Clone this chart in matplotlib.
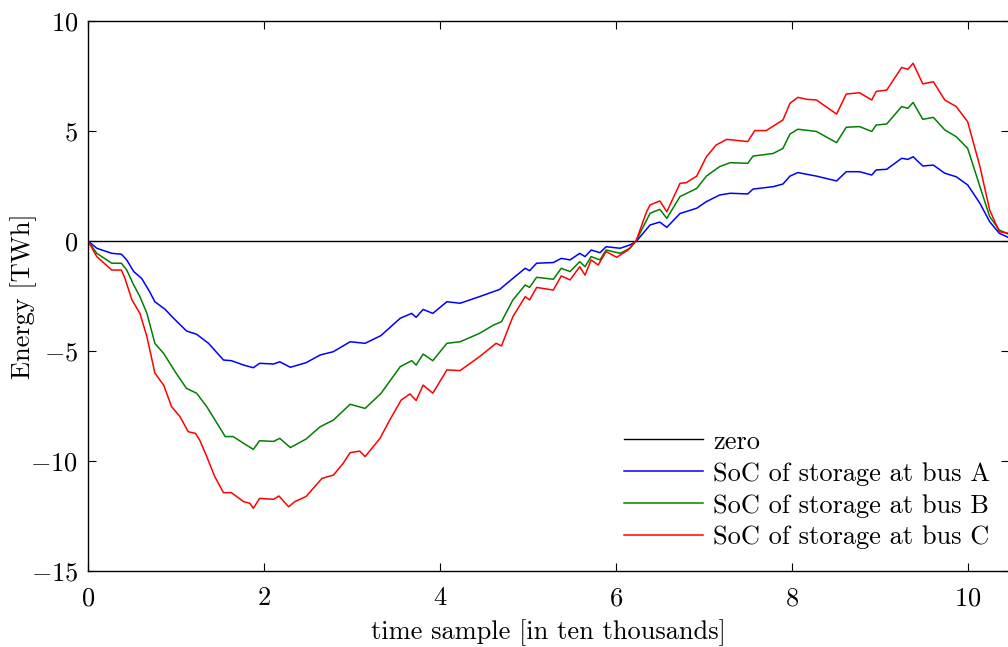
import matplotlib
matplotlib.use("Agg")
import matplotlib.pyplot as plt

plt.rcParams['font.family'] = 'serif'
plt.rcParams['font.serif'] = ['cmr10']
plt.rcParams['mathtext.fontset'] = 'cm'
plt.rcParams['axes.formatter.use_mathtext'] = True
plt.rcParams['axes.unicode_minus'] = True

# ---- data (time in ten thousands of samples, energy in TWh) ----
zero_x = [0.0, 10.5]
zero_y = [0.0, 0.0]

a_x = [0, 0.1, 0.27, 0.38, 0.44, 0.52, 0.61, 0.70, 0.76, 0.875, 0.97, 1.12, 1.235, 1.37,
       1.54, 1.63, 1.77, 1.88, 1.95, 2.11, 2.18, 2.30, 2.48, 2.64, 2.79, 2.98, 3.15, 3.33,
       3.55, 3.68, 3.73, 3.81, 3.92, 4.08, 4.23, 4.45, 4.68, 4.83, 4.97, 5.02, 5.10, 5.29,
       5.38, 5.48, 5.59, 5.65, 5.72, 5.82, 5.89, 6.05, 6.16, 6.23, 6.39, 6.5, 6.58, 6.73,
       6.92, 7.03, 7.18, 7.30, 7.50, 7.56, 7.79, 7.90, 7.98, 8.07, 8.28, 8.51, 8.62, 8.77,
       8.91, 8.96, 9.08, 9.25, 9.32, 9.38, 9.49, 9.61, 9.74, 9.87, 10.0, 10.14, 10.25,
       10.36, 10.47]
a_y = [0, -0.33, -0.56, -0.6, -0.86, -1.39, -1.70, -2.30, -2.76, -3.1, -3.5, -4.09, -4.24,
       -4.65, -5.41, -5.44, -5.64, -5.76, -5.56, -5.59, -5.49, -5.74, -5.53, -5.18, -5.03,
       -4.58, -4.65, -4.3, -3.51, -3.29, -3.47, -3.11, -3.29, -2.76, -2.83, -2.53, -2.20,
       -1.70, -1.24, -1.35, -1.01, -0.98, -0.79, -0.86, -0.56, -0.71, -0.41, -0.53, -0.26,
       -0.33, -0.18, -0.03, 0.73, 0.86, 0.62, 1.25, 1.49, 1.79, 2.09, 2.17, 2.14, 2.36,
       2.47, 2.59, 2.95, 3.11, 2.95, 2.73, 3.15, 3.15, 3.0, 3.23, 3.26, 3.76, 3.71, 3.83,
       3.41, 3.45, 3.08, 2.92, 2.55, 1.71, 0.88, 0.35, 0.15]

b_x = [0, 0.1, 0.27, 0.38, 0.44, 0.52, 0.59, 0.67, 0.76, 0.86, 1.0, 1.12, 1.235, 1.35,
       1.56, 1.65, 1.77, 1.88, 1.95, 2.11, 2.18, 2.30, 2.48, 2.64, 2.79, 2.98, 3.15, 3.33,
       3.55, 3.68, 3.73, 3.81, 3.92, 4.08, 4.23, 4.45, 4.61, 4.70, 4.83, 4.97, 5.02, 5.10,
       5.29, 5.38, 5.48, 5.59, 5.65, 5.72, 5.82, 5.89, 6.05, 6.16, 6.23, 6.39, 6.5, 6.58,
       6.73, 6.92, 7.03, 7.18, 7.30, 7.50, 7.56, 7.79, 7.90, 7.98, 8.07, 8.28, 8.51, 8.62,
       8.77, 8.91, 8.96, 9.08, 9.25, 9.32, 9.38, 9.49, 9.61, 9.74, 9.87, 10.0, 10.14,
       10.25, 10.36, 10.47]
b_y = [0, -0.56, -1.01, -1.01, -1.32, -2.0, -2.53, -3.29, -4.65, -5.11, -6.0, -6.7, -6.92,
       -7.53, -8.89, -8.89, -9.2, -9.47, -9.08, -9.11, -8.97, -9.39, -9.0, -8.44, -8.14,
       -7.42, -7.61, -6.93, -5.71, -5.44, -5.64, -5.14, -5.44, -4.65, -4.58, -4.2, -3.82,
       -3.67, -2.68, -2.0, -2.11, -1.65, -1.74, -1.24, -1.39, -0.94, -1.17, -0.71, -0.86,
       -0.41, -0.56, -0.33, 0.0, 1.26, 1.44, 1.03, 2.02, 2.39, 2.95, 3.38, 3.56, 3.53,
       3.86, 3.98, 4.21, 4.86, 5.08, 4.98, 4.47, 5.17, 5.2, 4.98, 5.27, 5.32, 6.11, 6.03,
       6.3, 5.53, 5.62, 5.05, 4.74, 4.21, 2.47, 1.11, 0.5, 0.3]

c_x = [0, 0.1, 0.27, 0.38, 0.42, 0.50, 0.59, 0.67, 0.76, 0.86, 0.95, 1.045, 1.14, 1.22,
       1.27, 1.35, 1.44, 1.54, 1.63, 1.77, 1.84, 1.88, 1.95, 2.11, 2.17, 2.28, 2.35, 2.48,
       2.66, 2.79, 2.90, 2.98, 3.09, 3.15, 3.32, 3.43, 3.56, 3.66, 3.73, 3.81, 3.92, 4.08,
       4.23, 4.45, 4.64, 4.70, 4.83, 4.97, 5.02, 5.10, 5.29, 5.38, 5.48, 5.59, 5.65, 5.72,
       5.80, 5.89, 6.01, 6.14, 6.23, 6.35, 6.39, 6.5, 6.58, 6.73, 6.80, 6.92, 7.03, 7.14,
       7.26, 7.50, 7.58, 7.71, 7.90, 7.98, 8.07, 8.17, 8.28, 8.51, 8.62, 8.77, 8.91, 8.96,
       9.08, 9.25, 9.32, 9.38, 9.49, 9.61, 9.74, 9.87, 10.0, 10.14, 10.25, 10.36, 10.47]
c_y = [0, -0.71, -1.32, -1.32, -1.70, -2.68, -3.29, -4.35, -6.0, -6.55, -7.53, -7.98,
       -8.67, -8.74, -9.05, -9.8, -10.7, -11.44, -11.44, -11.85, -11.92, -12.15, -11.7,
       -11.74, -11.59, -12.08, -11.85, -11.61, -10.79, -10.64, -10.11, -9.62, -9.55, -9.8,
       -8.97, -8.14, -7.23, -6.95, -7.25, -6.55, -6.92, -5.86, -5.89, -5.26, -4.65, -4.77,
       -3.44, -2.53, -2.68, -2.11, -2.23, -1.59, -1.77, -1.17, -1.55, -0.86, -1.09, -0.48,
       -0.74, -0.41, 0.0, 1.33, 1.64, 1.82, 1.33, 2.62, 2.65, 2.95, 3.83, 4.36, 4.62, 4.52,
       5.02, 5.02, 5.5, 6.26, 6.53, 6.44, 6.41, 5.77, 6.68, 6.74, 6.41, 6.8, 6.86, 7.89,
       7.8, 8.08, 7.14, 7.24, 6.41, 6.11, 5.42, 3.38, 1.41, 0.42, 0.35]

labels = ['zero', 'SoC of storage at bus A', 'SoC of storage at bus B', 'SoC of storage at bus C']
xticks = [0, 2, 4, 6, 8, 10]
yticks = [-15, -10, -5, 0, 5, 10]

W, H = 1008, 647
fig = plt.figure(figsize=(W / 100, H / 100), dpi=100)
ax = fig.add_axes([88 / W, (H - 571) / H, (1009 - 88) / W, (571 - 21) / H])

ax.plot(zero_x, zero_y, color='black', lw=1.0, label=labels[0])
ax.plot(a_x, a_y, color=(0, 0, 1), lw=1.1, label=labels[1])
ax.plot(b_x, b_y, color=(0, 0.5, 0), lw=1.1, label=labels[2])
ax.plot(c_x, c_y, color=(1, 0, 0), lw=1.1, label=labels[3])

ax.set_xlim(0, 10.47)
ax.set_ylim(-15, 10)
ax.set_xticks(xticks)
ax.set_yticks(yticks)
ax.tick_params(direction='in', top=True, right=True, length=6, width=0.8, labelsize=19)
ax.tick_params(axis='x', pad=11)
ax.tick_params(axis='y', pad=7)
for s in ax.spines.values():
    s.set_linewidth(1.0)

ax.set_xlabel('time sample [in ten thousands]', fontsize=19, labelpad=7)
ax.set_ylabel('Energy [TWh]', fontsize=19)
ax.yaxis.set_label_coords(-0.0554, 0.5)

ax.legend(loc='lower right', bbox_to_anchor=(0.9906, 0.02), frameon=False, fontsize=19,
          handlelength=3.0, handletextpad=0.38, labelspacing=0.31, borderaxespad=0.0)

fig.savefig('out.png', dpi=100)
